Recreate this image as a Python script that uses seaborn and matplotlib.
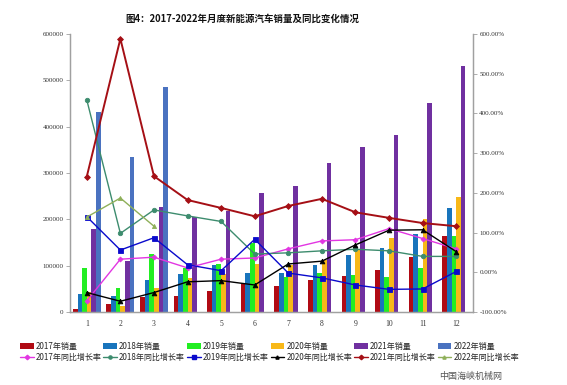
import numpy as np
import pandas as pd
import matplotlib
matplotlib.use("Agg")
import matplotlib.pyplot as plt
import seaborn as sns
from matplotlib.patches import Patch
from matplotlib.lines import Line2D
from matplotlib.ticker import FuncFormatter

months = [str(i) for i in range(1, 13)]
years = ["2017", "2018", "2019", "2020", "2021", "2022"]

sales_2017 = [5700, 17000, 33000, 34500, 45000, 60000, 56000, 69000, 78000, 91000, 119000, 163000]
sales_2018 = [38000, 34000, 68000, 81000, 101000, 84000, 84000, 101000, 122000, 138000, 168000, 224000]
sales_2019 = [96000, 52500, 126000, 95000, 104000, 148000, 76000, 85000, 80000, 75000, 96000, 163000]
sales_2020 = [44000, 14000, 51000, 72700, 81000, 104000, 101000, 112000, 134000, 160000, 200000, 248000]
sales_2021 = [179000, 111000, 227000, 206000, 219000, 256000, 272000, 321000, 357000, 383000, 451000, 532000]
sales_2022 = [432000, 334000, 485000]

rate_2017 = [-72, 33, 38, 11, 33, 36, 59, 79, 82, 110, 85, 59]
rate_2018 = [434, 98, 157, 142, 128, 46, 49, 54, 58, 54, 40, 40]
rate_2019 = [140, 56, 87, 19, 4, 83, -2, -14, -32, -43, -42, 2]
rate_2020 = [-51, -73, -51, -24, -21, -32, 21, 28, 69, 106, 107, 52]
rate_2021 = [241, 588, 242, 182, 162, 141, 167, 185, 151, 137, 124, 116]
rate_2022 = [139, 187, 116]

sales = [sales_2017, sales_2018, sales_2019, sales_2020, sales_2021, sales_2022]
rates = [rate_2017, rate_2018, rate_2019, rate_2020, rate_2021, rate_2022]

bar_colors = ["#B00A14", "#1874BC", "#22EE22", "#F8B818", "#7030A0", "#4A72C0"]
line_colors = ["#E236E2", "#3D8C6E", "#0A0ACC", "#000000", "#A50F15", "#8FB05A"]
markers = ["D", "o", "s", "^", "D", "^"]
mks = [2.5, 3.2, 3.6, 3.4, 3.0, 3.0]
lws = [1.0, 1.0, 1.0, 1.0, 1.4, 1.0]

rows = []
for y, vals in zip(years, sales):
    for m, v in zip(months, vals):
        rows.append({"month": m, "year": y, "sales": v})
df_sales = pd.DataFrame(rows)

sns.set_style("white")
plt.rcParams["font.family"] = ["Noto Sans CJK SC", "DejaVu Sans"]

fig = plt.figure(figsize=(5.67, 3.85), dpi=100)
ax = fig.add_axes([70 / 567, 1 - 312 / 385, 403 / 567, 278 / 385])

sns.barplot(data=df_sales, x="month", y="sales", hue="year", order=months,
            hue_order=years, palette=bar_colors, width=0.83, gap=0,
            saturation=1, errorbar=None, ax=ax, legend=False, linewidth=0)

ax2 = ax.twinx()
for i, (y, vals) in enumerate(zip(years, rates)):
    d = pd.DataFrame({"x": np.arange(len(vals)), "rate": vals})
    sns.lineplot(data=d, x="x", y="rate", ax=ax2, color=line_colors[i],
                 marker=markers[i], markersize=mks[i], linewidth=lws[i],
                 markeredgewidth=0.6, markeredgecolor=line_colors[i], legend=False)

ax.set_xlim(-0.5, 11.5)
ax2.set_xlim(-0.5, 11.5)
ax.set_ylim(0, 600000)
ax2.set_ylim(-100, 600)
ax.set_yticks(np.arange(0, 600001, 100000))
ax2.set_yticks(np.arange(-100, 601, 100))
ax2.yaxis.set_major_formatter(FuncFormatter(lambda v, p: f"{v:.2f}%"))
ax.set_xlabel("")
ax.set_ylabel("")
ax2.set_xlabel("")
ax2.set_ylabel("")

spine_c = "#A0A0A0"
for a in (ax, ax2):
    a.spines["top"].set_visible(False)
    for s in ["left", "right", "bottom"]:
        a.spines[s].set_color(spine_c)
        a.spines[s].set_linewidth(0.9)

ax.set_xticks(range(12))
ax.set_xticklabels(months)
ax.set_xticks(np.arange(-0.5, 12, 1), minor=True)
ax.tick_params(axis="x", which="major", length=0, pad=6, labelsize=5.5, colors="#333333")
ax.tick_params(axis="x", which="minor", length=2.5, color=spine_c, width=0.6)
ax.tick_params(axis="y", which="major", length=3, color=spine_c, width=0.6, left=True,
               labelsize=5, colors="#333333", pad=1.5)
ax2.tick_params(axis="y", which="major", length=3, color=spine_c, width=0.6, right=True,
                labelsize=5, colors="#333333", pad=1.5)
for lab in ax.get_xticklabels() + ax.get_yticklabels() + ax2.get_yticklabels():
    lab.set_fontfamily("Liberation Serif")
    lab.set_color("#333333")

fig.text(242 / 567, 1 - 19 / 385, "图4：2017-2022年月度新能源汽车销量及同比变化情况",
         ha="center", va="center", fontsize=6.8, fontweight="bold", color="#111111")

handles = []
labels = []
for i, y in enumerate(years):
    handles.append(Patch(facecolor=bar_colors[i], edgecolor="none"))
    labels.append(f"{y}年销量")
    handles.append(Line2D([0], [0], color=line_colors[i], marker=markers[i],
                          markersize=2.3, linewidth=1.0))
    labels.append(f"{y}年同比增长率")

leg = fig.legend(handles, labels, ncol=6, loc="upper left",
                 bbox_to_anchor=(15 / 567, 1 - 337 / 385), frameon=False,
                 fontsize=5.8, handlelength=1.7, handleheight=0.75,
                 handletextpad=0.25, columnspacing=0.25, labelspacing=0.3,
                 borderpad=0.1)

fig.text(471 / 567, 1 - 376 / 385, "中国海峡机械网", ha="center", va="center",
         fontsize=6.5, color="#555555")

fig.savefig("out.png", dpi=100)
